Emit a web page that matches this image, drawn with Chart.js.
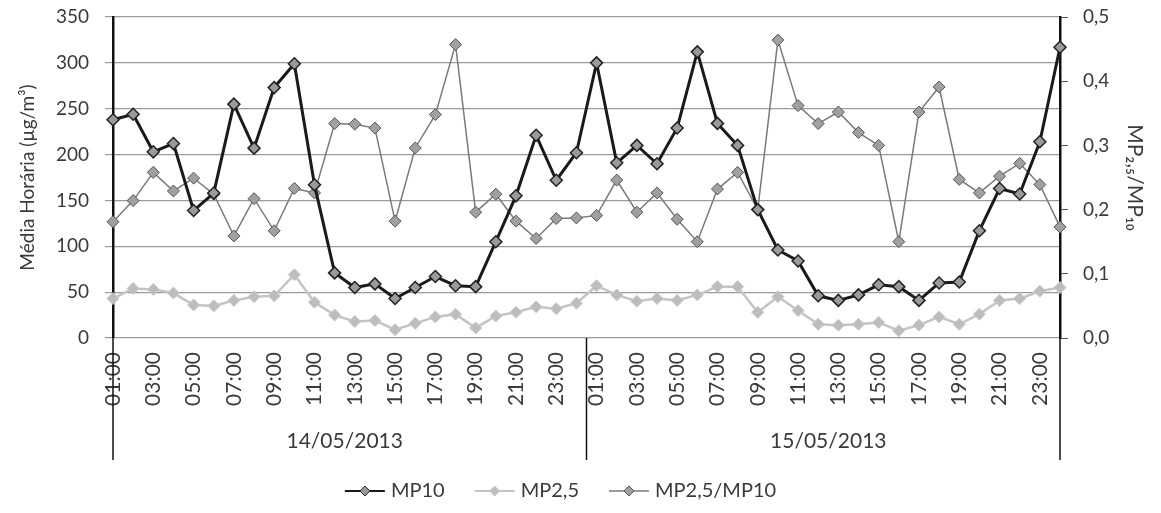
<!DOCTYPE html>
<html>
<head>
<meta charset="utf-8">
<script src="https://cdn.jsdelivr.net/npm/chart.js@4"></script>
<style>
  html, body { margin: 0; padding: 0; background: #fff; }
  #wrap { width: 1161px; height: 513px; }
</style>
</head>
<body>
<div id="wrap"><canvas id="myChart" width="1161" height="513"></canvas></div>
<script>
// hours of each day and the two days
const hours = ['01:00','02:00','03:00','04:00','05:00','06:00','07:00','08:00','09:00','10:00','11:00','12:00',
               '13:00','14:00','15:00','16:00','17:00','18:00','19:00','20:00','21:00','22:00','23:00','24:00'];
const days = ['14/05/2013', '15/05/2013'];

// hourly means, ug/m3 (left axis)
const mp10 = [238,244,203,212,139,158,255,207,273,299,167,71,55,59,43,55,67,57,56,105,155,221,172,202,
              300,191,210,190,229,312,234,210,140,96,84,46,41,47,58,56,41,60,61,117,163,157,214,317];
const mp25 = [43,54,53,49,36,35,41,45,46,69,39,25,18,19,9,16,23,26,11,24,28,34,32,38,
              57,47,40,43,41,47,56,56,28,45,30,15,14,15,17,8,14,23,15,26,41,43,51,55];
// ratio MP2,5/MP10 (right axis)
const ratio = [0.181,0.214,0.258,0.229,0.249,0.224,0.159,0.217,0.167,0.233,0.226,0.334,0.333,0.327,0.182,0.296,0.348,0.457,0.196,0.224,0.182,0.155,0.186,0.187,
               0.191,0.246,0.196,0.226,0.185,0.150,0.232,0.258,0.200,0.464,0.362,0.334,0.352,0.320,0.300,0.150,0.352,0.391,0.247,0.226,0.252,0.272,0.239,0.173];

const leftTicks = [0,50,100,150,200,250,300,350];
const rightTicks = [0,0.1,0.2,0.3,0.4,0.5];

const FONT = 'Lato, "Open Sans", sans-serif';
const TXT = '#3a3a3a';

// category labels: one per hour over both days
let labels = [];
days.forEach(function(d){
    hours.forEach(function(h){ labels.push(h); });
});

// draws the date row, the day separators and the legend
const extrasPlugin = {
    id: 'extras',
    afterDraw(chart) {
        const ctx = chart.ctx;
        const area = chart.chartArea;
        const x = chart.scales.x;
        const bottom = area.bottom + 122;
        ctx.save();
        ctx.strokeStyle = '#111';
        ctx.lineWidth = 1.5;
        // separators: left edge, between days, right edge
        let seps = [area.left, area.right];
        for (let d = 1; d < days.length; d++) {
            let i = d * hours.length;
            seps.push((x.getPixelForValue(i - 1) + x.getPixelForValue(i)) / 2);
        }
        seps.forEach(function(px){
            ctx.beginPath();
            ctx.moveTo(px, area.bottom);
            ctx.lineTo(px, bottom);
            ctx.stroke();
        });
        // date labels
        ctx.fillStyle = TXT;
        ctx.font = '21px ' + FONT;
        ctx.textAlign = 'center';
        ctx.textBaseline = 'middle';
        days.forEach(function(d, k){
            let a = x.getPixelForValue(k * hours.length);
            let b = x.getPixelForValue((k + 1) * hours.length - 1);
            ctx.fillText(d, (a + b) / 2, area.bottom + 103);
        });
        // legend: line + diamond + text
        ctx.font = '20px ' + FONT;
        ctx.textAlign = 'left';
        const items = chart.data.datasets;
        const lineLen = 40, gap = 6, itemGap = 30;
        let total = 0;
        items.forEach(function(ds){ total += lineLen + gap + ctx.measureText(ds.label).width + itemGap; });
        total -= itemGap;
        let lx = (area.left + area.right) / 2 - 26 - total / 2;
        const ly = 491;
        items.forEach(function(ds){
            ctx.strokeStyle = ds.borderColor;
            ctx.lineWidth = Math.min(ds.borderWidth, 2);
            ctx.beginPath();
            ctx.moveTo(lx, ly);
            ctx.lineTo(lx + lineLen, ly);
            ctx.stroke();
            let cx = lx + lineLen / 2, r = 5;
            ctx.beginPath();
            ctx.moveTo(cx, ly - r);
            ctx.lineTo(cx + r, ly);
            ctx.lineTo(cx, ly + r);
            ctx.lineTo(cx - r, ly);
            ctx.closePath();
            ctx.fillStyle = ds.pointBackgroundColor;
            ctx.fill();
            ctx.strokeStyle = ds.pointBorderColor;
            ctx.lineWidth = 1;
            ctx.stroke();
            ctx.fillStyle = TXT;
            ctx.fillText(ds.label, lx + lineLen + gap, ly);
            lx += lineLen + gap + ctx.measureText(ds.label).width + itemGap;
        });
        ctx.restore();
    }
};

const data = {
    labels: labels,
    datasets: [
        {
            label: 'MP10',
            data: mp10,
            yAxisID: 'y',
            borderColor: '#1a1a1a',
            borderWidth: 3,
            pointStyle: 'rectRot',
            pointRadius: 6,
            pointBackgroundColor: '#9a9a9a',
            pointBorderColor: '#222',
            pointBorderWidth: 1.5,
            tension: 0,
            order: 0
        },
        {
            label: 'MP2,5',
            data: mp25,
            yAxisID: 'y',
            borderColor: '#c4c4c4',
            borderWidth: 2.5,
            pointStyle: 'rectRot',
            pointRadius: 6,
            pointBackgroundColor: '#bdbdbd',
            pointBorderColor: '#c8c8c8',
            pointBorderWidth: 1,
            tension: 0,
            order: 2
        },
        {
            label: 'MP2,5/MP10',
            data: ratio,
            yAxisID: 'y1',
            borderColor: '#7a7a7a',
            borderWidth: 1.5,
            pointStyle: 'rectRot',
            pointRadius: 6,
            pointBackgroundColor: '#a0a0a0',
            pointBorderColor: '#555',
            pointBorderWidth: 1,
            tension: 0,
            order: 1
        }
    ]
};

// keep the plot top fixed: drop the tick-label padding of the value axes
function noVPad(scale) {
    scale.paddingTop = 0;
    scale.paddingBottom = 0;
}

const config = {
    type: 'line',
    data,
    plugins: [extrasPlugin],
    options: {
        responsive: false,
        animation: false,
        layout: { padding: { top: 17, left: 16, right: 14, bottom: 50 } },
        plugins: {
            legend: { display: false },
            tooltip: { enabled: false }
        },
        scales: {
            x: {
                grid: { display: false },
                border: { display: false },
                ticks: {
                    autoSkip: false,
                    maxRotation: 90,
                    minRotation: 90,
                    padding: 6,
                    color: TXT,
                    font: { family: FONT, size: 21 },
                    callback: function(val, index) {
                        return index % 2 === 0 ? this.getLabelForValue(val) : '';
                    }
                },
                afterFit: function(scale) { scale.height = 125; }
            },
            y: {
                position: 'left',
                min: 0,
                max: 350,
                afterBuildTicks: function(scale) {
                    scale.ticks = leftTicks.map(function(v){ return {value: v}; });
                },
                grid: { color: '#9a9a9a', lineWidth: 1.2, tickLength: 8 },
                border: { color: '#111', width: 2.5 },
                ticks: { color: TXT, padding: 16, font: { family: FONT, size: 19 } },
                title: {
                    display: true,
                    text: 'Média Horária (µg/m³)',
                    color: TXT,
                    font: { family: FONT, size: 19 },
                    padding: { top: 0, bottom: 0 }
                },
                afterFit: function(scale) { scale.width = 97; noVPad(scale); }
            },
            y1: {
                position: 'right',
                min: 0,
                max: 0.5,
                afterBuildTicks: function(scale) {
                    scale.ticks = rightTicks.map(function(v){ return {value: v}; });
                },
                grid: { drawOnChartArea: false, color: '#555', tickLength: 8 },
                border: { color: '#111', width: 2.5 },
                ticks: {
                    color: TXT,
                    padding: 15,
                    font: { family: FONT, size: 19 },
                    callback: function(v) { return v.toFixed(1).replace('.', ','); }
                },
                title: {
                    display: true,
                    text: 'MP₂,₅/MP₁₀',
                    color: TXT,
                    font: { family: FONT, size: 21 },
                    padding: { top: 0, bottom: 0 }
                },
                afterFit: function(scale) { scale.width = 87; noVPad(scale); }
            }
        }
    }
};

const myChart = new Chart(document.getElementById('myChart'), config);
</script>
</body>
</html>
